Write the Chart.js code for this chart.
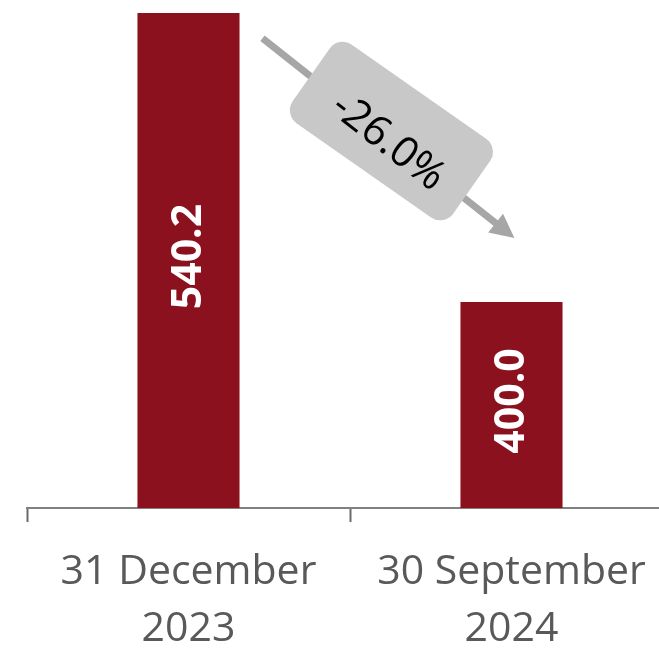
<!DOCTYPE html>
<html>
<head>
<meta charset="utf-8">
<script src="https://cdn.jsdelivr.net/npm/chart.js@4.4.1/dist/chart.umd.min.js"></script>
<style>
  html, body { margin: 0; padding: 0; background: #fff; overflow: hidden; }
  #wrap { width: 673px; height: 652px; }
</style>
</head>
<body>
<div id="wrap"><canvas id="debtChart" width="673" height="652"></canvas></div>
<script>
/* Dados do gráfico */
const periods = [['31 December', '2023'], ['30 September', '2024']];
const values  = [540.2, 400.0];
const axisMin = 300;

const barColor  = '#8a111d';
const textGray  = '#595959';

/* Rótulos brancos verticais dentro das barras */
const barLabels = {
  id: 'barLabels',
  afterDatasetsDraw(chart) {
    const { ctx } = chart;
    const bottom = chart.scales.y.bottom;
    const meta = chart.getDatasetMeta(0);
    meta.data.forEach((bar, i) => {
      const cy = (bar.y + bottom) / 2 - 4;
      ctx.save();
      ctx.translate(bar.x + 1, cy);
      ctx.rotate(-Math.PI / 2);
      ctx.fillStyle = '#fff';
      ctx.font = 'bold 41px "Open Sans"';
      ctx.textAlign = 'center';
      ctx.textBaseline = 'middle';
      ctx.fillText(values[i].toFixed(1), 0, 0);
      ctx.restore();
    });
  }
};

/* Seta de variação com caixa arredondada */
const changeArrow = {
  id: 'changeArrow',
  afterDraw(chart) {
    const { ctx, scales: { x, y } } = chart;
    const x1 = x.getPixelForValue(0.229), y1 = y.getPixelForValue(528);
    const x2 = x.getPixelForValue(1.009), y2 = y.getPixelForValue(431);
    const ang = Math.atan2(y2 - y1, x2 - x1);
    const len = Math.hypot(x2 - x1, y2 - y1);

    ctx.save();
    ctx.translate(x1, y1);
    ctx.rotate(ang);
    ctx.strokeStyle = '#a6a6a6';
    ctx.fillStyle = '#a6a6a6';
    ctx.lineWidth = 7;
    ctx.beginPath();
    ctx.moveTo(0, 0);
    ctx.lineTo(len - 20, 0);
    ctx.stroke();
    ctx.beginPath();
    ctx.moveTo(len, 0);
    ctx.lineTo(len - 24, -12);
    ctx.lineTo(len - 24, 12);
    ctx.closePath();
    ctx.fill();
    ctx.restore();

    // caixa, um pouco menos inclinada que a seta
    const cx = x1 + (x2 - x1) * 0.5 + 3;
    const cy = y1 + (y2 - y1) * 0.5 - 7;
    const w = 196, h = 96, r = 16;
    ctx.save();
    ctx.translate(cx, cy);
    ctx.rotate(35 * Math.PI / 180);
    ctx.fillStyle = '#c8c8c8';
    ctx.beginPath();
    ctx.roundRect(-w / 2, -h / 2, w, h, r);
    ctx.fill();

    const pct = (values[1] / values[0] - 1) * 100;
    ctx.rotate(3 * Math.PI / 180);
    ctx.fillStyle = '#000';
    ctx.font = '42px "Open Sans"';
    ctx.textAlign = 'center';
    ctx.textBaseline = 'middle';
    ctx.fillText(pct.toFixed(1) + '%', 4, 11);
    ctx.restore();
  }
};

new Chart(document.getElementById('debtChart'), {
  type: 'bar',
  data: {
    labels: periods,
    datasets: [{
      data: values,
      backgroundColor: barColor,
      barPercentage: 0.316,
      categoryPercentage: 1
    }]
  },
  options: {
    responsive: false,
    animation: false,
    events: [],
    layout: { padding: { left: 27, top: 13, right: 0, bottom: 0 } },
    plugins: { legend: { display: false }, tooltip: { enabled: false } },
    scales: {
      x: {
        offset: true,
        border: { display: true, color: '#808080', width: 2 },
        grid: {
          offset: true,
          drawOnChartArea: false,
          drawTicks: true,
          tickLength: 14,
          tickWidth: 2,
          tickColor: '#6b6b6b'
        },
        ticks: {
          color: textGray,
          font: { family: '"Open Sans"', size: 41, lineHeight: 1.41 },
          padding: 21,
          maxRotation: 0
        },
        afterFit(s) { s.height = 144; }
      },
      y: {
        display: false,
        min: axisMin,
        max: 540.2
      }
    }
  },
  plugins: [barLabels, changeArrow]
});
</script>
</body>
</html>
